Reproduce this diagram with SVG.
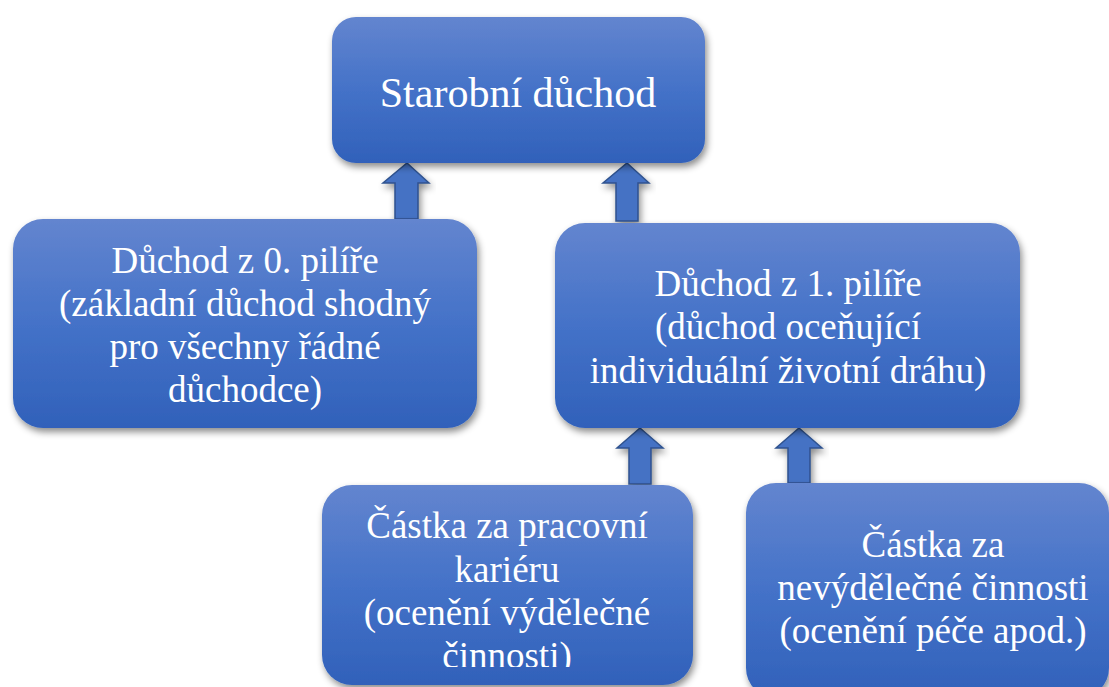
<svg xmlns="http://www.w3.org/2000/svg" width="1109" height="687" viewBox="0 0 1109 687">
<defs>
<linearGradient id="g" x1="0" y1="0" x2="0" y2="1">
<stop offset="0" stop-color="#6385CF"/>
<stop offset="0.5" stop-color="#4472C8"/>
<stop offset="1" stop-color="#3161BA"/>
</linearGradient>
<filter id="sh" x="-10%" y="-10%" width="125%" height="130%">
<feDropShadow dx="2" dy="4" stdDeviation="3.5" flood-color="#000" flood-opacity="0.45"/>
</filter>
<clipPath id="clipBL"><rect x="322" y="485" width="372" height="182"/></clipPath>
</defs>
<style>
.box{fill:url(#g);filter:url(#sh);}
.arr{fill:#4472C4;stroke:#2F528F;stroke-width:1.5;stroke-linejoin:miter;filter:url(#sh);}
text{font-family:"Liberation Serif","Times New Roman",serif;fill:#fff;text-anchor:middle;}
.t{font-size:37px;}
.big{font-size:42px;}
</style>
<g id="connectors">
<path class="arr" d="M407,163 L429,183 L418,183 L418,219 L395,219 L395,183 L383,183 Z"/>
<path class="arr" d="M627,163 L649,183 L638,183 L638,221 L616,221 L616,183 L603,183 Z"/>
<path class="arr" d="M640,428 L663,448 L651,448 L651,484 L629,484 L629,448 L617,448 Z"/>
<path class="arr" d="M799,428 L822,448 L810,448 L810,483 L788,483 L788,448 L776,448 Z"/>
</g>
<g id="n-top">
<rect class="box" x="332" y="17" width="373" height="146" rx="24"/>
<text class="big" x="518" y="107" font-family="Liberation Serif, serif">Starobní důchod</text>
</g>
<g id="n-pillar0">
<rect class="box" x="13" y="219" width="464" height="209" rx="30"/>
<text class="t" x="245" y="273">Důchod z 0. pilíře</text>
<text class="t" x="245" y="316">(základní důchod shodný</text>
<text class="t" x="245" y="359">pro všechny řádné</text>
<text class="t" x="245" y="402">důchodce)</text>
</g>
<g id="n-pillar1">
<rect class="box" x="555" y="223" width="465" height="205" rx="30"/>
<text class="t" x="788" y="296">Důchod z 1. pilíře</text>
<text class="t" x="788" y="339">(důchod oceňující</text>
<text class="t" x="788" y="383">individuální životní dráhu)</text>
</g>
<g id="n-career">
<rect class="box" x="322" y="485" width="371" height="200" rx="30"/>
<g clip-path="url(#clipBL)">
<text class="t" x="507" y="538">Částka za pracovní</text>
<text class="t" x="507" y="582">kariéru</text>
<text class="t" x="507" y="625">(ocenění výdělečné</text>
<text class="t" x="507" y="668">činnosti)</text>
</g>
</g>
<g id="n-noncareer">
<rect class="box" x="746" y="483" width="363" height="215" rx="30"/>
<text class="t" x="933" y="557">Částka za</text>
<text class="t" x="933" y="600">nevýdělečné činnosti</text>
<text class="t" x="933" y="643">(ocenění péče apod.)</text>
</g>
</svg>
